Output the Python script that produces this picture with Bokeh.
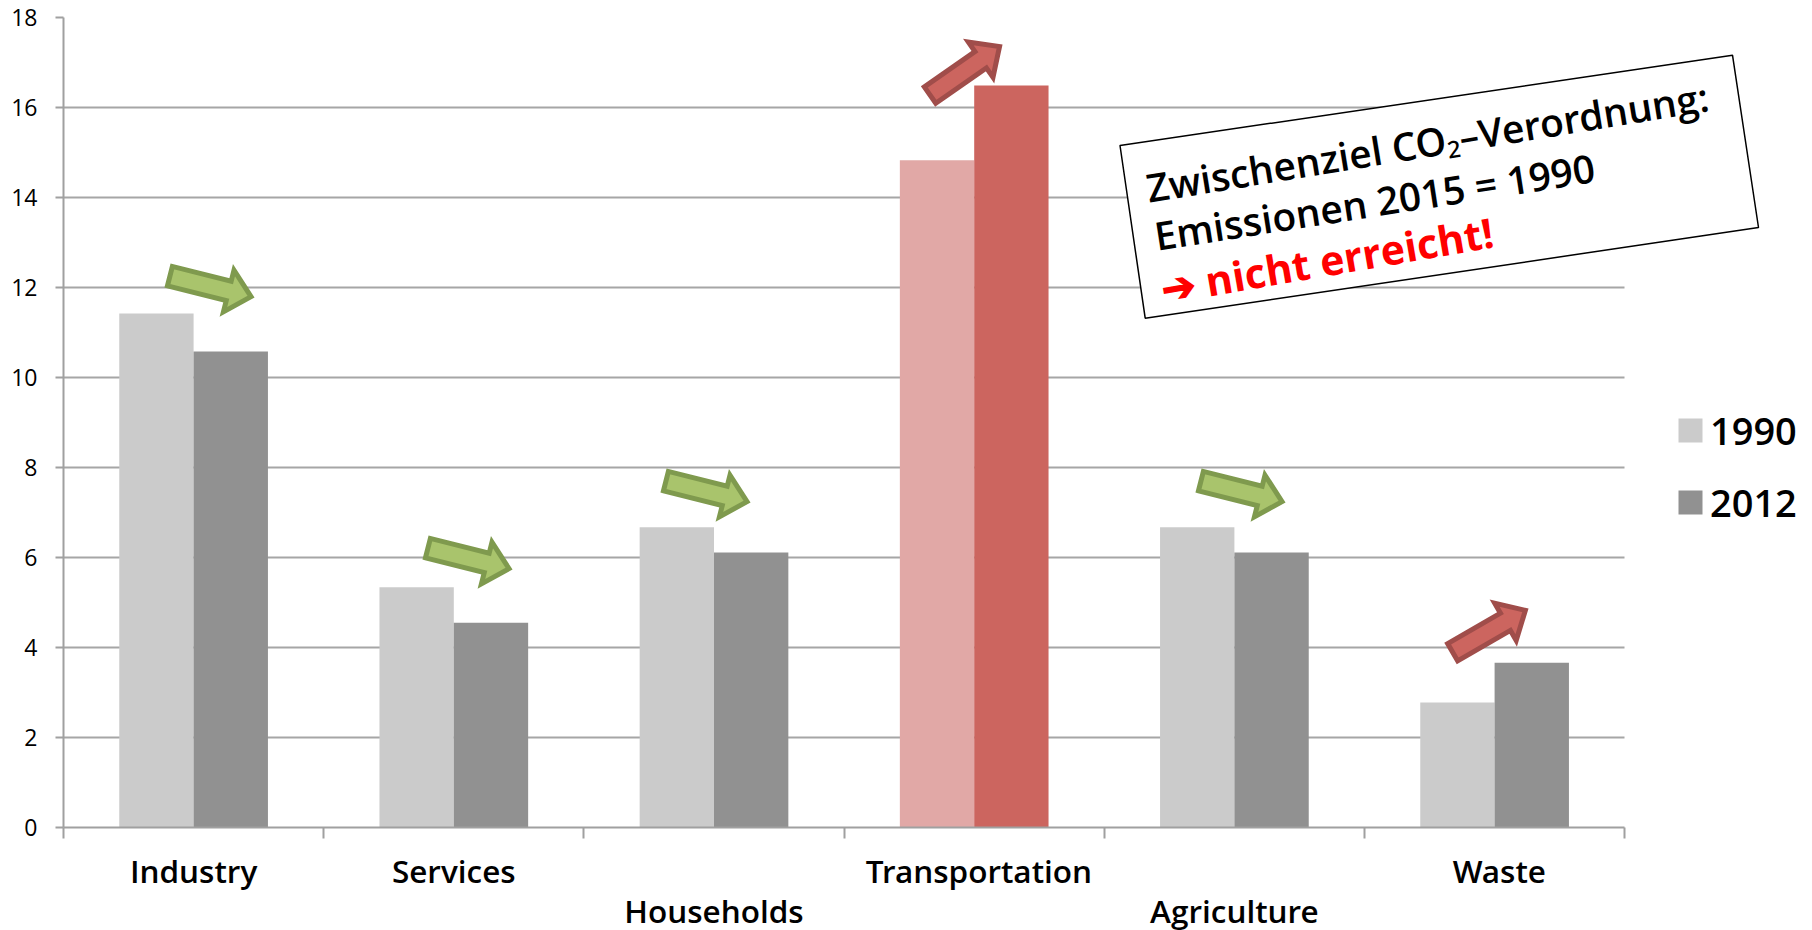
import numpy as np
from bokeh.plotting import figure
from bokeh.embed import file_html
from bokeh.resources import INLINE
from bokeh.models import (ColumnDataSource, FixedTicker, Label, Legend, LegendItem,
                          LinearAxis, PolyAnnotation)

categories = ["Industry", "Services", "Households", "Transportation", "Agriculture", "Waste"]
values_1990 = [11.42, 5.34, 6.67, 14.83, 6.67, 2.78]
values_2012 = [10.58, 4.55, 6.11, 16.49, 6.11, 3.66]
colors_1990 = ["#CBCBCB", "#CBCBCB", "#CBCBCB", "#E1A8A6", "#CBCBCB", "#CBCBCB"]
colors_2012 = ["#919191", "#919191", "#919191", "#CC655F", "#919191", "#919191"]
y_ticks = [0, 2, 4, 6, 8, 10, 12, 14, 16, 18]
note_lines = ["Zwischenziel CO₂–Verordnung:", "Emissionen 2015 = 1990"]
note_verdict = "➔ nicht erreicht!"

FONT = "Open Sans"
SEMI = "Open Sans SemiBold, Open Sans, Noto Sans"
W, H = 1812, 930
X0, Y0, PX_CAT, PX_UNIT = 63.0, 827.0, 260.2, 45.0


def dx(px):
    return (px - X0) / PX_CAT


def dy(py):
    return (Y0 - py) / PX_UNIT


def arrow_points(tail, tip, shaft=10.0, head=21.5, head_len=23.0, stroke=5.0):
    t, h = np.array(tail, float), np.array(tip, float)
    u = (h - t) / np.linalg.norm(h - t)
    n = np.array([-u[1], u[0]])
    t = t + u * stroke / 2
    h = h - u * stroke * 0.72
    b = h - u * head_len
    pts = [t + n * shaft, b + n * shaft, b + n * head, h,
           b - n * head, b - n * shaft, t - n * shaft]
    return [dx(q[0]) for q in pts], [dy(q[1]) for q in pts]


p = figure(width=W, height=H, frame_width=W - int(X0), frame_height=int(Y0) - 17,
           x_range=(0, dx(W)), y_range=(0, 18),
           output_backend="svg", toolbar_location=None,
           min_border_left=int(X0), min_border_top=17,
           min_border_right=0, min_border_bottom=H - int(Y0))
p.outline_line_color = None
p.xgrid.visible = False
p.ygrid.grid_line_color = "#A6A6A6"
p.ygrid.grid_line_width = 2
p.ygrid.ticker = FixedTicker(ticks=y_ticks)
p.ygrid.cross_bounds = (0, len(categories))

AXIS = "#A0A0A0"
ya = p.yaxis[0]
ya.axis_line_color = AXIS
ya.axis_line_width = 2
ya.major_tick_line_color = AXIS
ya.major_tick_line_width = 2
ya.major_tick_in = 0
ya.major_tick_out = 8
ya.minor_tick_line_color = None
ya.ticker = FixedTicker(ticks=y_ticks)
ya.major_label_standoff = 18
ya.major_label_text_font = FONT
ya.major_label_text_font_size = "23px"
ya.major_label_text_color = "#000000"

idx = np.arange(len(categories))
upper = {0: 0.5, 1: 0.5, 3: 0.518, 5: 0.518}
lower = {2: 0.5, 4: 0.5}

xa = p.xaxis[0]
xa.bounds = (0, len(categories))
xa.axis_line_color = AXIS
xa.axis_line_width = 2
xa.ticker = FixedTicker(ticks=[i + d for i, d in upper.items()],
                        minor_ticks=list(range(len(categories) + 1)))
xa.major_label_overrides = {i + d: categories[i] for i, d in upper.items()}
xa.major_tick_line_color = None
xa.major_tick_in = 0
xa.major_tick_out = 0
xa.minor_tick_line_color = AXIS
xa.minor_tick_line_width = 2
xa.minor_tick_in = 0
xa.minor_tick_out = 11
xa.major_label_standoff = 10
xa.major_label_text_font = SEMI
xa.major_label_text_font_size = "31.5px"
xa.major_label_text_color = "#000000"

xb = LinearAxis(ticker=FixedTicker(ticks=[i + d for i, d in lower.items()]),
                major_label_overrides={i + d: categories[i] for i, d in lower.items()},
                axis_line_color=None, major_tick_line_color=None, minor_tick_line_color=None,
                major_tick_in=0, major_tick_out=0, minor_tick_out=0,
                major_label_standoff=-6, major_label_text_font=SEMI,
                major_label_text_font_size="31.5px", major_label_text_color="#000000")
p.add_layout(xb, "below")

bar_w = 1 / 3.5
src = ColumnDataSource(dict(
    x1=idx + 0.5 - bar_w / 2, x2=idx + 0.5 + bar_w / 2,
    v1=values_1990, v2=values_2012, c1=colors_1990, c2=colors_2012))
r1 = p.vbar(x="x1", top="v1", width=bar_w, fill_color="c1", line_color=None, source=src)
r2 = p.vbar(x="x2", top="v2", width=bar_w, fill_color="c2", line_color=None, source=src)

# trend arrows: (tail, tip) in page pixels
green = [((167, 275), (254, 297)), ((425, 547), (512, 569)),
         ((663, 480), (750, 502)), ((1198, 480), (1285, 502))]
red = [((927.5, 96), (1002, 44)), ((1450, 653), (1528, 608))]
for arrows, fill, line in ((green, "#A9C46C", "#7F9A4E"), (red, "#CC655F", "#A04D4A")):
    xs, ys = zip(*[arrow_points(a, b) for a, b in arrows])
    p.patches(list(xs), list(ys), fill_color=fill, line_color=line,
              line_width=5, line_join="miter")

# rotated note box
box_x = [1119.5, 1732, 1758, 1144.7]
box_y = [145, 54.7, 227, 317.7]
p.add_layout(PolyAnnotation(xs=[dx(v) for v in box_x], ys=[dy(v) for v in box_y],
                            fill_color="#FFFFFF", fill_alpha=1.0, line_color="#000000",
                            line_width=1.5, line_alpha=1.0))
p.add_layout(Label(x=dx(1146), y=dy(187), text=note_lines[0], angle=9.3, angle_units="deg",
                   text_font=SEMI, text_font_size="39px", text_baseline="alphabetic",
                   text_color="#000000"))
p.add_layout(Label(x=dx(1154), y=dy(235), text=note_lines[1], angle=8.9, angle_units="deg",
                   text_font=SEMI, text_font_size="39px", text_baseline="alphabetic",
                   text_color="#000000"))
p.add_layout(Label(x=dx(1161), y=dy(288), text=note_verdict, angle=9.8, angle_units="deg",
                   text_font=FONT, text_font_size="41px", text_font_style="bold",
                   text_baseline="alphabetic", text_color="#FF0000"))

legend = Legend(items=[LegendItem(label="1990", renderers=[r1], index=0),
                       LegendItem(label="2012", renderers=[r2], index=0)],
                location=(1612, 299), orientation="vertical", padding=0, margin=0,
                spacing=20, glyph_width=30, glyph_height=30, label_height=30,
                label_standoff=5, border_line_color=None, background_fill_alpha=0,
                label_text_font=SEMI, label_text_font_size="38px",
                label_text_color="#000000")
p.add_layout(legend, "center")

open("out.html", "w").write(file_html(p, INLINE))
